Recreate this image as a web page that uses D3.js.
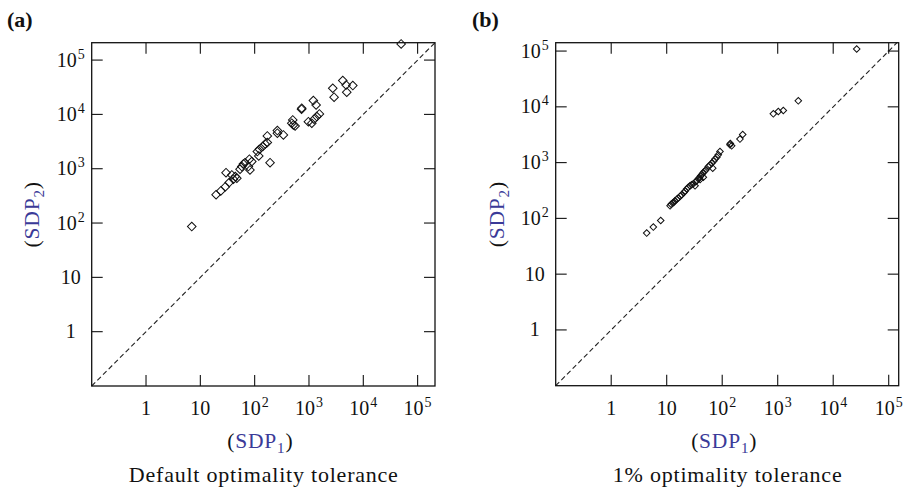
<!DOCTYPE html>
<html><head><meta charset="utf-8">
<script src="https://cdn.jsdelivr.net/npm/d3@7"></script>
<style>body{margin:0;background:#fff}svg{display:block}</style>
</head><body>
<svg id="c" width="905" height="494"></svg>
<script>
// ---- data ----
const tickValues = [1, 10, 100, 1000, 10000, 100000];
const tickLabels = [["1",""],["10",""],["10","2"],["10","3"],["10","4"],["10","5"]];
const panelLetters = ["(a)", "(b)"];
const panelTitles = ["Default optimality tolerance", "1% optimality tolerance"];

const panelA_x = [6.95,19.5,23.8,28.9,34,40.6,29.7,38,44,47,58,62,66.5,53.8,76.6,82,80,88.5,112,122,119,141,156,171,171,192,262,262,338,482,516,503,555,736,730,1205,1352,975,1127,1242,1393,1556,2740,2900,4190,4820,6410,4960,49700];
const panelA_y = [86,333,390,468,555,641,847,770,716,668,1094,1225,1294,980,1094,950,1497,1352,2065,2285,1722,2554,2864,3029,4018,1294,5035,4510,4190,6887,6412,7925,6133,13000,12500,17950,14960,7360,6887,8160,9120,10200,30300,20750,41900,34900,33900,25650,198600];

const panelB_x = [4.36,5.74,7.8,11.5,12.0,12.8,13.5,14.1,15.2,16.2,17.5,18.6,20.5,21.5,22.9,24.5,26.3,28,30.2,33.7,35,37.1,39,41,43,45.7,48,51,56.2,60,64.7,70,74.2,80,85,91.2,32.4,45.7,67.5,40,138,148,140,209,234,834,1026,1262,2350,26500];
const panelB_y = [54.6,69.8,91.6,168,180,188,195,207,220,231,250,265,291,310,335,360,384,400,417,458,480,506,540,579,610,665,700,743,852,900,979,1060,1155,1250,1380,1580,384,549,796,500,2085,2000,2200,2640,3190,7500,8250,8590,12800,109000];

// ---- layout ----
const panels = [
  {left: 91.7, top: 42.7, size: 343.3, xmax: Math.pow(10,5.32), ymax: Math.pow(10,5.32), xs: panelA_x, ys: panelA_y, m: 4.3, letterX: 7, titleW: 269, ylabX: 39},
  {left: 555.7, top: 42.7, size: 343.0, xmax: Math.pow(10,5.18), ymax: Math.pow(10,5.15), xs: panelB_x, ys: panelB_y, m: 3.3, letterX: 472, titleW: 229, ylabX: 504}
];
const svg = d3.select("#c");
const font = "'Liberation Serif','Times New Roman',serif";
const blue = "#3a3a98";
const tickLen = 11;

function labelTspans(t, lab) {
  t.append("tspan").text(lab[0]);
  if (lab[1]) t.append("tspan").attr("font-size", 14).attr("dy", -8).attr("dx", 1).text(lab[1]);
}

panels.forEach((p, i) => {
  const x = d3.scaleLog().domain([0.1, p.xmax]).range([p.left, p.left + p.size]);
  const y = d3.scaleLog().domain([0.1, p.ymax]).range([p.top + p.size, p.top]);
  const g = svg.append("g");
  const L = p.left, R = p.left + p.size, T = p.top, B = p.top + p.size;

  // diagonal
  const dmax = Math.min(p.xmax, p.ymax);
  g.append("line").attr("x1", x(0.1)).attr("y1", y(0.1)).attr("x2", x(dmax)).attr("y2", y(dmax))
    .attr("stroke", "#222").attr("stroke-width", 1.1).attr("stroke-dasharray", "5,3");

  // frame
  g.append("rect").attr("x", L).attr("y", T).attr("width", p.size).attr("height", p.size)
    .attr("fill", "none").attr("stroke", "#111").attr("stroke-width", 1.3);

  // ticks
  tickValues.forEach((v, k) => {
    const xv = x(v), yv = y(v);
    g.append("line").attr("x1", xv).attr("x2", xv).attr("y1", B).attr("y2", B - tickLen).attr("stroke", "#111").attr("stroke-width", 1.1);
    g.append("line").attr("x1", xv).attr("x2", xv).attr("y1", T).attr("y2", T + tickLen).attr("stroke", "#111").attr("stroke-width", 1.1);
    g.append("line").attr("y1", yv).attr("y2", yv).attr("x1", L).attr("x2", L + tickLen).attr("stroke", "#111").attr("stroke-width", 1.1);
    g.append("line").attr("y1", yv).attr("y2", yv).attr("x1", R).attr("x2", R - tickLen).attr("stroke", "#111").attr("stroke-width", 1.1);

    const lab = tickLabels[k];
    const tx = g.append("text").attr("x", xv).attr("y", 415).attr("text-anchor", "middle")
      .attr("font-family", font).attr("font-size", 20).attr("fill", "#111");
    labelTspans(tx, lab);

    const ty = g.append("text").attr("x", L - 21).attr("y", yv + 6.5).attr("text-anchor", "middle")
      .attr("font-family", font).attr("font-size", 20).attr("fill", "#111");
    labelTspans(ty, lab);
  });

  // points
  const sym = d3.symbol().type(d3.symbolSquare).size(p.m * p.m * 2);
  p.xs.forEach((xv, k) => {
    g.append("path").attr("d", sym())
      .attr("transform", `translate(${x(xv)},${y(p.ys[k])}) rotate(45)`)
      .attr("fill", "none").attr("stroke", "#111").attr("stroke-width", 1);
  });

  // x label
  const cx = (L + R) / 2;
  const xl = g.append("text").attr("x", cx - 3).attr("y", 448).attr("text-anchor", "middle")
    .attr("font-family", font).attr("font-size", 21.5).attr("fill", "#111")
    .attr("letter-spacing", 0.8);
  xl.append("tspan").text("(");
  xl.append("tspan").attr("fill", blue).text("SDP");
  xl.append("tspan").attr("fill", blue).attr("font-size", 15).attr("dy", 5).text("1");
  xl.append("tspan").attr("dy", -5).text(")");

  // y label
  const yc = (T + B) / 2;
  const yl = g.append("text").attr("transform", `translate(${p.ylabX},${yc}) rotate(-90)`)
    .attr("text-anchor", "middle").attr("font-family", font).attr("font-size", 21.5).attr("fill", "#111")
    .attr("letter-spacing", 0.8);
  yl.append("tspan").text("(");
  yl.append("tspan").attr("fill", blue).text("SDP");
  yl.append("tspan").attr("fill", blue).attr("font-size", 15).attr("dy", 5).text("2");
  yl.append("tspan").attr("dy", -5).text(")");

  // title
  g.append("text").attr("x", cx - p.titleW / 2).attr("y", 482)
    .attr("font-family", font).attr("font-size", 22).attr("fill", "#111")
    .attr("textLength", p.titleW).attr("lengthAdjust", "spacing").text(panelTitles[i]);

  // letter
  g.append("text").attr("x", p.letterX).attr("y", 27).attr("font-family", font)
    .attr("font-size", 22).attr("font-weight", "bold").attr("fill", "#111").text(panelLetters[i]);
});
</script>
</body></html>
